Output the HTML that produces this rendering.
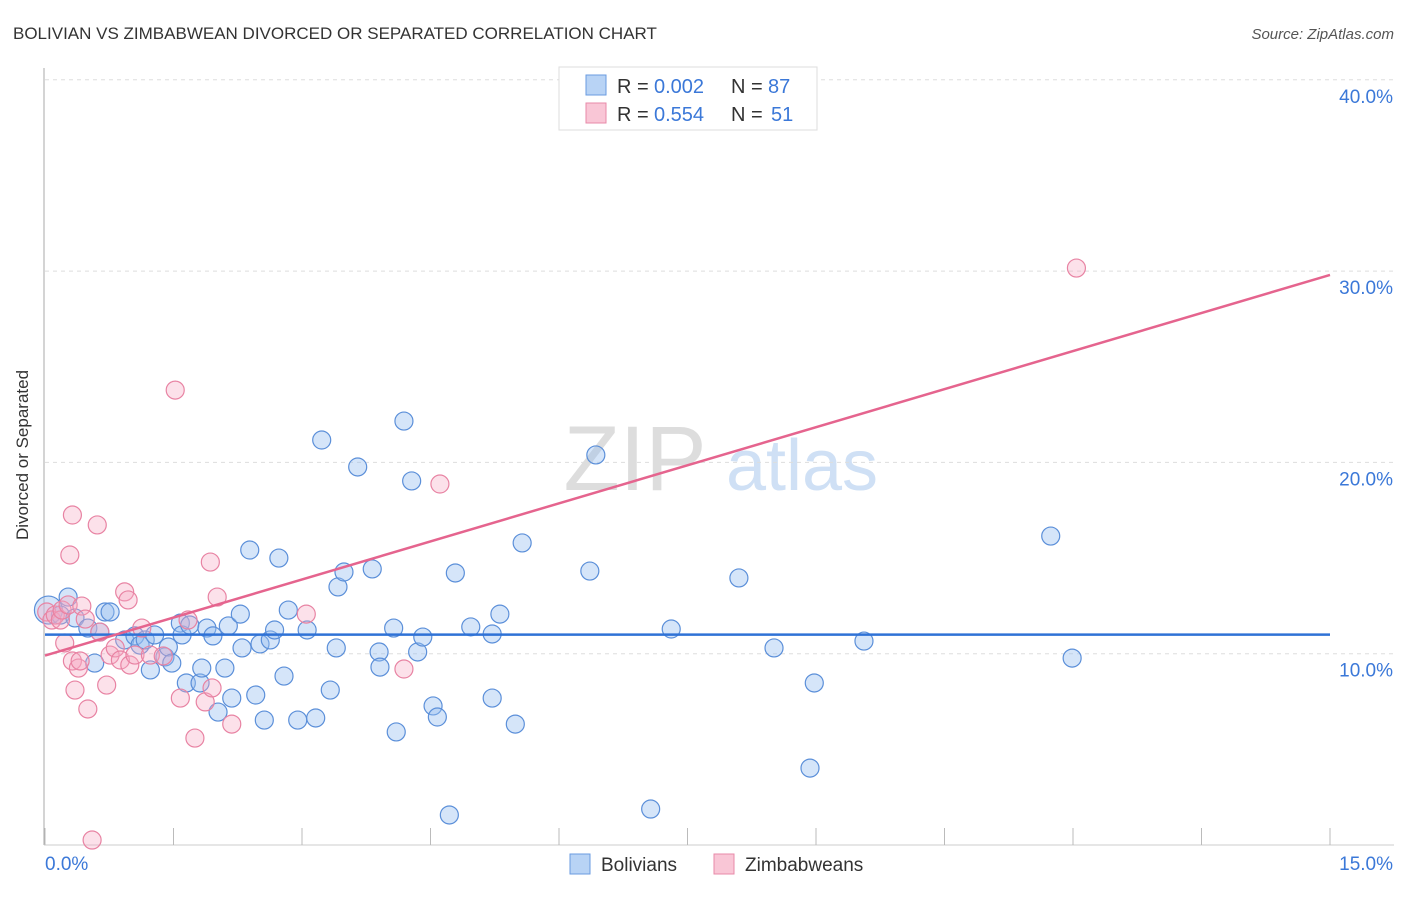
<!DOCTYPE html>
<html><head><meta charset="utf-8"><style>
body{margin:0;background:#fff;font-family:"Liberation Sans",sans-serif;}
svg text{font-family:"Liberation Sans",sans-serif;}
</style></head><body>
<svg id="chart" width="1406" height="892">
<text x="13" y="39" font-size="17" fill="#333">BOLIVIAN VS ZIMBABWEAN DIVORCED OR SEPARATED CORRELATION CHART</text>
<text x="1394" y="39" font-size="15" fill="#555" text-anchor="end" font-style="italic">Source: ZipAtlas.com</text>
<text x="28" y="455" font-size="17" fill="#333" text-anchor="middle" transform="rotate(-90 28 455)">Divorced or Separated</text>
<g><text x="635" y="490" font-size="92" fill="#ddd" font-family="Liberation Serif" text-anchor="middle">ZIP</text><text x="802" y="490" font-size="72" fill="#cfe0f5" text-anchor="middle">atlas</text></g>
<g id="grid"></g><g id="axes"></g><g id="pts"></g><g id="lines"></g>
<g>
<rect x="559" y="67" width="258" height="63" fill="#fff" stroke="#ddd"/>
<rect x="586" y="75" width="20" height="20" fill="#b8d3f5" stroke="#6a9be0"/>
<text x="617" y="93" font-size="20" fill="#333">R =</text>
<text x="654" y="93" font-size="20" fill="#3b78d8">0.002</text>
<text x="731" y="93" font-size="20" fill="#333">N =</text>
<text x="768" y="93" font-size="20" fill="#3b78d8">87</text>
<rect x="586" y="103" width="20" height="20" fill="#f9c6d6" stroke="#e88aa8"/>
<text x="617" y="121" font-size="20" fill="#333">R =</text>
<text x="654" y="121" font-size="20" fill="#3b78d8">0.554</text>
<text x="731" y="121" font-size="20" fill="#333">N =</text>
<text x="771" y="121" font-size="20" fill="#3b78d8">51</text>
</g>
<g>
<rect x="570" y="854" width="20" height="20" fill="#b8d3f5" stroke="#6a9be0"/>
<text x="601" y="871" font-size="19" fill="#333">Bolivians</text>
<rect x="714" y="854" width="20" height="20" fill="#f9c6d6" stroke="#e88aa8"/>
<text x="745" y="871" font-size="19" fill="#333">Zimbabweans</text>
</g>
</svg>
<script>
const blueX=[0.04,0.27,0.18,0.35,0.50,0.58,0.70,0.76,0.64,0.93,1.05,1.11,1.17,1.23,1.28,1.40,1.44,1.48,1.58,1.60,1.69,1.65,1.81,1.83,1.89,1.96,2.02,2.10,2.14,2.18,2.28,2.30,2.39,2.46,2.51,2.56,2.63,2.68,2.73,2.79,2.84,2.95,3.06,3.16,3.23,3.33,3.40,3.42,3.49,3.65,3.82,3.90,3.91,4.07,4.10,4.19,4.28,4.35,4.41,4.53,4.58,4.72,4.79,4.97,5.22,5.22,5.31,5.49,5.57,6.36,6.43,7.07,7.31,8.10,8.51,8.93,8.98,9.56,11.74,11.99];
const blueY=[12.28,12.96,12.02,11.87,11.34,9.51,12.18,12.18,11.13,10.72,10.93,10.45,10.72,9.15,10.98,9.83,10.35,9.51,11.60,10.98,11.50,8.47,8.47,9.25,11.34,10.93,6.95,9.25,11.45,7.68,12.07,10.30,15.42,7.84,10.51,6.53,10.72,11.24,15.00,8.83,12.28,6.53,11.24,6.64,21.17,8.10,10.30,13.49,14.27,19.76,14.43,10.09,9.30,11.34,5.91,22.16,19.03,10.09,10.87,7.27,6.69,1.57,14.22,11.40,11.03,7.68,12.07,6.32,15.79,14.32,20.39,1.88,11.29,13.96,10.30,4.02,8.47,10.66,16.15,9.77];
const pinkX=[0.02,0.08,0.12,0.18,0.20,0.23,0.27,0.29,0.32,0.32,0.35,0.39,0.41,0.43,0.47,0.50,0.55,0.61,0.64,0.72,0.76,0.82,0.88,0.93,0.97,0.99,1.05,1.13,1.23,1.38,1.52,1.58,1.67,1.75,1.87,1.93,1.95,2.01,2.18,3.05,4.19,4.61,12.04];
const pinkY=[12.18,11.76,12.02,11.76,12.28,10.56,12.55,15.16,17.25,9.62,8.10,9.25,9.62,12.49,11.81,7.11,0.26,16.73,11.13,8.36,9.93,10.30,9.67,13.23,12.81,9.41,9.93,11.34,9.93,9.88,23.78,7.68,11.76,5.59,7.48,14.79,8.21,12.96,6.32,12.07,9.20,18.87,30.16];
const blueTrend=[11.0,11.0];
const pinkTrend=[9.9,29.8];
const trendX=[0,15];
const yTicks=[10,20,30,40];
const yTickLabels=["10.0%","20.0%","30.0%","40.0%"];
const xTicks=[0,1.5,3,4.5,6,7.5,9,10.5,12,13.5,15];
const xEndLabels=["0.0%","15.0%"];
const NS="http://www.w3.org/2000/svg";
const sx=v=>45+v/15*1285, sy=v=>845-v/10*191.3;
function mk(t,a,p){const e=document.createElementNS(NS,t);for(const k in a)e.setAttribute(k,a[k]);p.appendChild(e);return e;}
const grid=document.getElementById('grid'),axes=document.getElementById('axes'),pts=document.getElementById('pts'),lines=document.getElementById('lines');
yTicks.forEach((v,i)=>{
 const l=mk('line',{x1:45,x2:1394,y1:sy(v),y2:sy(v),stroke:'#ddd','stroke-dasharray':'4,4'},grid);
 
 
 const t=mk('text',{x:1393,y:sy(v)+23,'font-size':19,fill:'#3b78d8','text-anchor':'end'},axes);t.textContent=yTickLabels[i];
 
 
});
const ax=mk('line',{x1:44,x2:44,y1:68,y2:845,stroke:'#aaa'},axes);


const bx=mk('line',{x1:44,x2:1394,y1:845,y2:845,stroke:'#ccc'},axes);


xTicks.forEach(v=>{const t=mk('line',{x1:sx(v),x2:sx(v),y1:828,y2:845,stroke:'#bbb'},axes);
 
 });
const xl0=mk('text',{x:45,y:870,'font-size':19,fill:'#3b78d8'},axes);xl0.textContent=xEndLabels[0];


const xl1=mk('text',{x:1393,y:870,'font-size':19,fill:'#3b78d8','text-anchor':'end'},axes);xl1.textContent=xEndLabels[1];


blueX.forEach((x,i)=>{const c=mk('circle',{cx:sx(x),cy:sy(blueY[i]),r:i===0?14:9,fill:'rgba(150,190,240,0.4)',stroke:'#5b8fd9','stroke-width':1.2},pts);
 
 });
pinkX.forEach((x,i)=>{const c=mk('circle',{cx:sx(x),cy:sy(pinkY[i]),r:9,fill:'rgba(245,170,195,0.35)',stroke:'#e883a3','stroke-width':1.2},pts);
 
 });
const bl=mk('line',{x1:sx(trendX[0]),x2:sx(trendX[1]),y1:sy(blueTrend[0]),y2:sy(blueTrend[1]),stroke:'#2f72d6','stroke-width':2.5},lines);


const pl=mk('line',{x1:sx(trendX[0]),x2:sx(trendX[1]),y1:sy(pinkTrend[0]),y2:sy(pinkTrend[1]),stroke:'#e5648e','stroke-width':2.5},lines);


</script>
</body></html>
